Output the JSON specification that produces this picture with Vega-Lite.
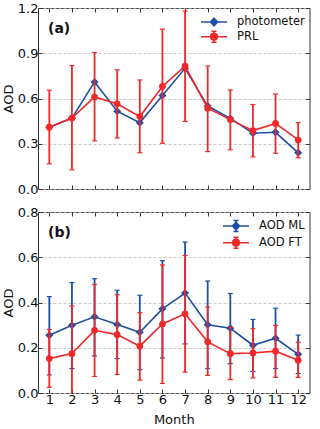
{
  "$schema": "https://vega.github.io/schema/vega-lite/v6.json",
  "padding": {"left": 2, "top": 1, "right": 4, "bottom": 1},
  "config": {
    "font": "DejaVu Sans",
    "view": {"stroke": "#333333", "strokeWidth": 1},
    "axis": {"labelFont": "DejaVu Sans", "labelFontSize": 13, "labelColor": "#111111", "titleFont": "DejaVu Sans", "titleFontSize": 13, "titleFontWeight": "normal", "titleColor": "#111111", "tickColor": "#333333", "tickSize": -4, "tickWidth": 1, "domain": false, "labelPadding": 4, "gridColor": "#bbbbbb", "gridDash": [3, 2], "gridWidth": 0.8},
    "legend": {"orient": "top-right", "offset": 5, "padding": 0, "labelFont": "DejaVu Sans", "labelFontSize": 11.5, "labelColor": "#111111", "symbolSize": 100, "symbolStrokeWidth": 1.6, "labelOffset": 17, "rowPadding": -1.3, "symbolOpacity": 1, "titleFontSize": 1, "titlePadding": 2}
  },
  "datasets": {
    "a": [
      {"month": 1, "series": "photometer", "value": 0.41},
      {"month": 2, "series": "photometer", "value": 0.47},
      {"month": 3, "series": "photometer", "value": 0.71},
      {"month": 4, "series": "photometer", "value": 0.516},
      {"month": 5, "series": "photometer", "value": 0.44},
      {"month": 6, "series": "photometer", "value": 0.62},
      {"month": 7, "series": "photometer", "value": 0.80},
      {"month": 8, "series": "photometer", "value": 0.55},
      {"month": 9, "series": "photometer", "value": 0.468},
      {"month": 10, "series": "photometer", "value": 0.37},
      {"month": 11, "series": "photometer", "value": 0.376},
      {"month": 12, "series": "photometer", "value": 0.24},
      {"month": 1, "series": "PRL", "value": 0.41, "lower": 0.167, "upper": 0.655},
      {"month": 2, "series": "PRL", "value": 0.47, "lower": 0.127, "upper": 0.818},
      {"month": 3, "series": "PRL", "value": 0.61, "lower": 0.319, "upper": 0.905},
      {"month": 4, "series": "PRL", "value": 0.565, "lower": 0.338, "upper": 0.79},
      {"month": 5, "series": "PRL", "value": 0.48, "lower": 0.24, "upper": 0.723},
      {"month": 6, "series": "PRL", "value": 0.68, "lower": 0.303, "upper": 1.06},
      {"month": 7, "series": "PRL", "value": 0.815, "lower": 0.448, "upper": 1.18},
      {"month": 8, "series": "PRL", "value": 0.536, "lower": 0.248, "upper": 0.815},
      {"month": 9, "series": "PRL", "value": 0.46, "lower": 0.26, "upper": 0.657},
      {"month": 10, "series": "PRL", "value": 0.387, "lower": 0.213, "upper": 0.56},
      {"month": 11, "series": "PRL", "value": 0.435, "lower": 0.237, "upper": 0.63},
      {"month": 12, "series": "PRL", "value": 0.325, "lower": 0.207, "upper": 0.44}
    ],
    "b": [
      {"month": 1, "series": "AOD ML", "value": 0.255, "lower": 0.08, "upper": 0.426},
      {"month": 2, "series": "AOD ML", "value": 0.299, "lower": 0.108, "upper": 0.488},
      {"month": 3, "series": "AOD ML", "value": 0.337, "lower": 0.164, "upper": 0.505},
      {"month": 4, "series": "AOD ML", "value": 0.303, "lower": 0.152, "upper": 0.454},
      {"month": 5, "series": "AOD ML", "value": 0.268, "lower": 0.103, "upper": 0.432},
      {"month": 6, "series": "AOD ML", "value": 0.372, "lower": 0.155, "upper": 0.585},
      {"month": 7, "series": "AOD ML", "value": 0.442, "lower": 0.217, "upper": 0.667},
      {"month": 8, "series": "AOD ML", "value": 0.302, "lower": 0.108, "upper": 0.495},
      {"month": 9, "series": "AOD ML", "value": 0.286, "lower": 0.13, "upper": 0.44},
      {"month": 10, "series": "AOD ML", "value": 0.211, "lower": 0.095, "upper": 0.325},
      {"month": 11, "series": "AOD ML", "value": 0.242, "lower": 0.108, "upper": 0.375},
      {"month": 12, "series": "AOD ML", "value": 0.171, "lower": 0.086, "upper": 0.256},
      {"month": 1, "series": "AOD FT", "value": 0.152, "lower": 0.025, "upper": 0.281},
      {"month": 2, "series": "AOD FT", "value": 0.174, "lower": -0.04, "upper": 0.385},
      {"month": 3, "series": "AOD FT", "value": 0.277, "lower": 0.073, "upper": 0.48},
      {"month": 4, "series": "AOD FT", "value": 0.258, "lower": 0.082, "upper": 0.434},
      {"month": 5, "series": "AOD FT", "value": 0.207, "lower": 0.057, "upper": 0.355},
      {"month": 6, "series": "AOD FT", "value": 0.305, "lower": 0.042, "upper": 0.566},
      {"month": 7, "series": "AOD FT", "value": 0.35, "lower": 0.092, "upper": 0.608},
      {"month": 8, "series": "AOD FT", "value": 0.226, "lower": 0.078, "upper": 0.38},
      {"month": 9, "series": "AOD FT", "value": 0.174, "lower": 0.059, "upper": 0.29},
      {"month": 10, "series": "AOD FT", "value": 0.177, "lower": 0.067, "upper": 0.284},
      {"month": 11, "series": "AOD FT", "value": 0.185, "lower": 0.069, "upper": 0.299},
      {"month": 12, "series": "AOD FT", "value": 0.145, "lower": 0.069, "upper": 0.224}
    ]
  },
  "spacing": 8,
  "resolve": {"scale": {"fill": "independent", "stroke": "independent", "shape": "independent"}, "legend": {"fill": "independent", "stroke": "independent", "shape": "independent"}},
  "vconcat": [
    {
      "width": 271.5,
      "height": 181,
      "data": {"name": "a"},
      "layer": [
        {
          "transform": [{"filter": "datum.series === 'photometer'"}],
          "mark": {"type": "line", "color": "#1f4fa5", "strokeWidth": 1.6},
          "encoding": {
            "x": {"field": "month", "type": "quantitative", "scale": {"domain": [0.5, 12.5], "nice": false, "zero": false}, "axis": {"orient": "bottom", "values": [1, 2, 3, 4, 5, 6, 7, 8, 9, 10, 11, 12], "labels": false, "title": null, "grid": false}},
            "y": {"field": "value", "type": "quantitative", "scale": {"domain": [0, 1.2], "nice": false, "zero": false}, "axis": {"orient": "left", "values": [0, 0.3, 0.6, 0.9, 1.2], "format": ".1f", "title": "AOD", "titlePadding": 1.5, "grid": true}}
          }
        },
        {
          "transform": [{"filter": "datum.series === 'photometer'"}],
          "mark": {"type": "point", "shape": "diamond", "filled": true, "size": 64, "color": "#1f4fa5", "opacity": 1},
          "encoding": {
            "x": {"field": "month", "type": "quantitative", "axis": {"orient": "top", "values": [1, 2, 3, 4, 5, 6, 7, 8, 9, 10, 11, 12], "labels": false, "grid": false, "title": "(a)", "titleX": 9.5, "titleY": 24, "titleAlign": "left", "titleBaseline": "alphabetic", "titleAngle": 0, "titleFontWeight": "bold", "titleFontSize": 14}},
            "y": {"field": "value", "type": "quantitative", "axis": {"orient": "right", "values": [0, 0.3, 0.6, 0.9, 1.2], "labels": false, "title": null, "grid": false}}
          }
        },
        {
          "transform": [{"filter": "datum.series === 'PRL'"}],
          "mark": {"type": "rule", "color": "#f0282a", "strokeWidth": 1.8},
          "encoding": {
            "x": {"field": "month", "type": "quantitative", "axis": null},
            "y": {"field": "lower", "type": "quantitative", "axis": null},
            "y2": {"field": "upper"}
          }
        },
        {
          "transform": [{"filter": "datum.series === 'PRL'"}],
          "mark": {"type": "tick", "orient": "horizontal", "color": "#f0282a", "size": 5, "thickness": 1.2, "opacity": 1},
          "encoding": {
            "x": {"field": "month", "type": "quantitative", "axis": null},
            "y": {"field": "lower", "type": "quantitative", "axis": null}
          }
        },
        {
          "transform": [{"filter": "datum.series === 'PRL'"}],
          "mark": {"type": "tick", "orient": "horizontal", "color": "#f0282a", "size": 5, "thickness": 1.2, "opacity": 1},
          "encoding": {
            "x": {"field": "month", "type": "quantitative", "axis": null},
            "y": {"field": "upper", "type": "quantitative", "axis": null}
          }
        },
        {
          "transform": [{"filter": "datum.series === 'PRL'"}],
          "mark": {"type": "line", "color": "#f0282a", "strokeWidth": 1.6},
          "encoding": {
            "x": {"field": "month", "type": "quantitative", "axis": null},
            "y": {"field": "value", "type": "quantitative", "axis": null}
          }
        },
        {
          "transform": [{"filter": "datum.series === 'PRL'"}],
          "mark": {"type": "point", "shape": "circle", "filled": true, "size": 45, "color": "#f0282a", "opacity": 1},
          "encoding": {
            "x": {"field": "month", "type": "quantitative", "axis": null},
            "y": {"field": "value", "type": "quantitative", "axis": null}
          }
        },
        {
          "transform": [{"filter": "false"}],
          "mark": {"type": "point", "filled": true},
          "encoding": {
            "x": {"field": "month", "type": "quantitative", "axis": null},
            "y": {"field": "value", "type": "quantitative", "axis": null},
            "fill": {"field": "series", "type": "nominal", "scale": {"domain": ["photometer", "PRL"], "range": ["#1f4fa5", "#f0282a"]}, "legend": {"title": " "}},
            "stroke": {"field": "series", "type": "nominal", "scale": {"domain": ["photometer", "PRL"], "range": ["#1f4fa5", "#f0282a"]}, "legend": {"title": " "}},
            "shape": {"field": "series", "type": "nominal", "scale": {"domain": ["photometer", "PRL"], "range": ["M-2.6,0H2.6M0,-0.75L0.7,0L0,0.75L-0.7,0Z", "M-2.6,0H2.6M0,-1.1V1.1M-0.5,-1.1H0.5M-0.5,1.1H0.5M0.66,0A0.66,0.66,0,1,1,-0.66,0A0.66,0.66,0,1,1,0.66,0Z"]}, "legend": {"title": " "}}
          }
        }
      ]
    },
    {
      "width": 271.5,
      "height": 181,
      "data": {"name": "b"},
      "layer": [
        {
          "transform": [{"filter": "datum.series === 'AOD ML'"}],
          "mark": {"type": "rule", "color": "#1f4fa5", "strokeWidth": 1.8},
          "encoding": {
            "x": {"field": "month", "type": "quantitative", "scale": {"domain": [0.5, 12.5], "nice": false, "zero": false}, "axis": {"orient": "bottom", "values": [1, 2, 3, 4, 5, 6, 7, 8, 9, 10, 11, 12], "format": "d", "title": "Month", "titlePadding": 7, "grid": false}},
            "y": {"field": "lower", "type": "quantitative", "scale": {"domain": [0, 0.8], "nice": false, "zero": false}, "axis": {"orient": "left", "values": [0, 0.2, 0.4, 0.6, 0.8], "format": ".1f", "title": "AOD", "titlePadding": 1.5, "grid": true}},
            "y2": {"field": "upper"}
          }
        },
        {
          "transform": [{"filter": "datum.series === 'AOD ML'"}],
          "mark": {"type": "tick", "orient": "horizontal", "color": "#1f4fa5", "size": 5, "thickness": 1.2, "opacity": 1},
          "encoding": {
            "x": {"field": "month", "type": "quantitative", "axis": {"orient": "top", "values": [1, 2, 3, 4, 5, 6, 7, 8, 9, 10, 11, 12], "labels": false, "grid": false, "title": "(b)", "titleX": 9.5, "titleY": 24, "titleAlign": "left", "titleBaseline": "alphabetic", "titleAngle": 0, "titleFontWeight": "bold", "titleFontSize": 14}},
            "y": {"field": "lower", "type": "quantitative", "axis": {"orient": "right", "values": [0, 0.2, 0.4, 0.6, 0.8], "labels": false, "title": null, "grid": false}}
          }
        },
        {
          "transform": [{"filter": "datum.series === 'AOD ML'"}],
          "mark": {"type": "tick", "orient": "horizontal", "color": "#1f4fa5", "size": 5, "thickness": 1.2, "opacity": 1},
          "encoding": {
            "x": {"field": "month", "type": "quantitative", "axis": null},
            "y": {"field": "upper", "type": "quantitative", "axis": null}
          }
        },
        {
          "transform": [{"filter": "datum.series === 'AOD ML'"}],
          "mark": {"type": "line", "color": "#1f4fa5", "strokeWidth": 1.6},
          "encoding": {
            "x": {"field": "month", "type": "quantitative", "axis": null},
            "y": {"field": "value", "type": "quantitative", "axis": null}
          }
        },
        {
          "transform": [{"filter": "datum.series === 'AOD ML'"}],
          "mark": {"type": "point", "shape": "diamond", "filled": true, "size": 64, "color": "#1f4fa5", "opacity": 1},
          "encoding": {
            "x": {"field": "month", "type": "quantitative", "axis": null},
            "y": {"field": "value", "type": "quantitative", "axis": null}
          }
        },
        {
          "transform": [{"filter": "datum.series === 'AOD FT'"}],
          "mark": {"type": "rule", "color": "#f0282a", "strokeWidth": 1.8, "clip": true},
          "encoding": {
            "x": {"field": "month", "type": "quantitative", "axis": null},
            "y": {"field": "lower", "type": "quantitative", "axis": null},
            "y2": {"field": "upper"}
          }
        },
        {
          "transform": [{"filter": "datum.series === 'AOD FT'"}],
          "mark": {"type": "tick", "orient": "horizontal", "color": "#f0282a", "size": 5, "thickness": 1.2, "opacity": 1, "clip": true},
          "encoding": {
            "x": {"field": "month", "type": "quantitative", "axis": null},
            "y": {"field": "lower", "type": "quantitative", "axis": null}
          }
        },
        {
          "transform": [{"filter": "datum.series === 'AOD FT'"}],
          "mark": {"type": "tick", "orient": "horizontal", "color": "#f0282a", "size": 5, "thickness": 1.2, "opacity": 1},
          "encoding": {
            "x": {"field": "month", "type": "quantitative", "axis": null},
            "y": {"field": "upper", "type": "quantitative", "axis": null}
          }
        },
        {
          "transform": [{"filter": "datum.series === 'AOD FT'"}],
          "mark": {"type": "line", "color": "#f0282a", "strokeWidth": 1.6},
          "encoding": {
            "x": {"field": "month", "type": "quantitative", "axis": null},
            "y": {"field": "value", "type": "quantitative", "axis": null}
          }
        },
        {
          "transform": [{"filter": "datum.series === 'AOD FT'"}],
          "mark": {"type": "point", "shape": "circle", "filled": true, "size": 45, "color": "#f0282a", "opacity": 1},
          "encoding": {
            "x": {"field": "month", "type": "quantitative", "axis": null},
            "y": {"field": "value", "type": "quantitative", "axis": null}
          }
        },
        {
          "transform": [{"filter": "false"}],
          "mark": {"type": "point", "filled": true},
          "encoding": {
            "x": {"field": "month", "type": "quantitative", "axis": null},
            "y": {"field": "value", "type": "quantitative", "axis": null},
            "fill": {"field": "series", "type": "nominal", "scale": {"domain": ["AOD ML", "AOD FT"], "range": ["#1f4fa5", "#f0282a"]}, "legend": {"title": " "}},
            "stroke": {"field": "series", "type": "nominal", "scale": {"domain": ["AOD ML", "AOD FT"], "range": ["#1f4fa5", "#f0282a"]}, "legend": {"title": " "}},
            "shape": {"field": "series", "type": "nominal", "scale": {"domain": ["AOD ML", "AOD FT"], "range": ["M-2.6,0H2.6M0,-1.1V1.1M-0.5,-1.1H0.5M-0.5,1.1H0.5M0,-0.75L0.7,0L0,0.75L-0.7,0Z", "M-2.6,0H2.6M0,-1.1V1.1M-0.5,-1.1H0.5M-0.5,1.1H0.5M0.66,0A0.66,0.66,0,1,1,-0.66,0A0.66,0.66,0,1,1,0.66,0Z"]}, "legend": {"title": " "}}
          }
        }
      ]
    }
  ]
}
